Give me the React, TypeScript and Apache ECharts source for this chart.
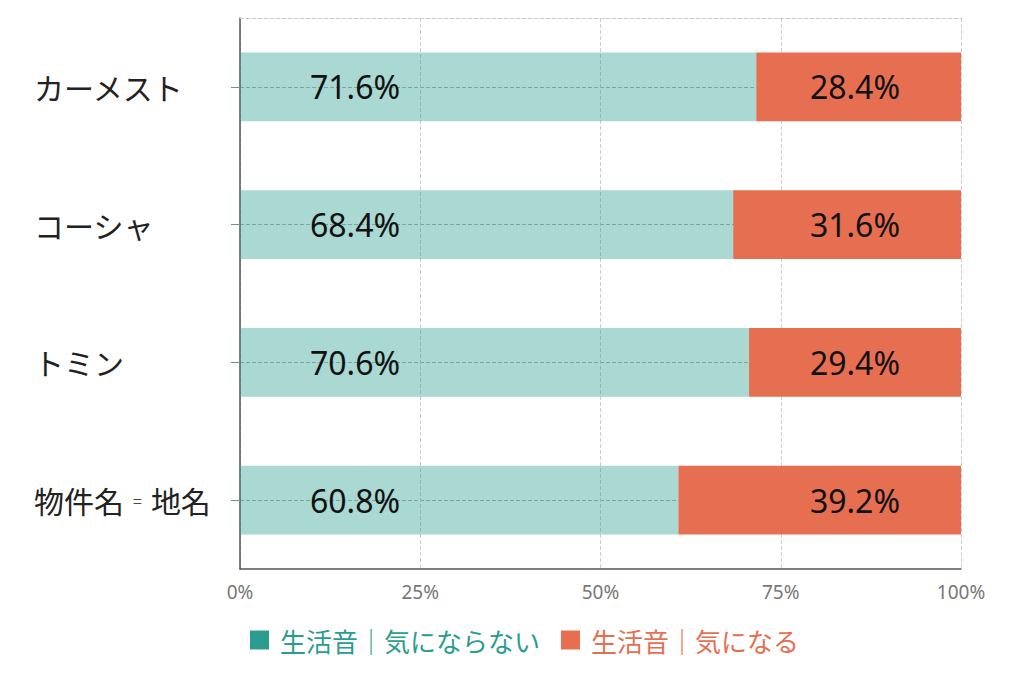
import React, { useEffect, useRef } from "react";
import * as echarts from "echarts";

const categories = ["カーメスト", "コーシャ", "トミン", "物件名 = 地名"];
const notBothered = [71.6, 68.4, 70.6, 60.8];
const bothered = [28.4, 31.6, 29.4, 39.2];
const seriesNames = ["生活音｜気にならない", "生活音｜気になる"];
const xTicks = [0, 25, 50, 75, 100];

const TEAL = "#2a9d8f";
const TEAL_BAR = "rgba(42,157,143,0.4)";
const ORANGE = "#e76f51";
const SANS = "'Noto Sans', sans-serif";
const JP = "'Noto Sans CJK JP', 'Noto Sans', sans-serif";

export default function App() {
  const ref = useRef<HTMLDivElement>(null);
  useEffect(() => {
    if (!ref.current) return;
    const chart = echarts.init(ref.current, undefined, { renderer: "svg" });
    chart.setOption({
      animation: false,
      grid: { left: 232, right: 55, top: 10, bottom: 106, containLabel: false },
      legend: {
        bottom: 17,
        left: 237,
        itemWidth: 19,
        itemHeight: 19,
        itemGap: 21,
        icon: "rect",
        textStyle: { fontSize: 26, fontFamily: JP, padding: [0, 0, 0, 6] },
        data: [
          { name: seriesNames[0], itemStyle: { color: TEAL }, textStyle: { color: TEAL } },
          { name: seriesNames[1], itemStyle: { color: ORANGE }, textStyle: { color: ORANGE } },
        ],
      },
      xAxis: [
        {
          type: "value",
          min: 0,
          max: 100,
          interval: 25,
          axisLine: { show: true, lineStyle: { color: "#555", width: 1.5 } },
          axisTick: { show: false },
          axisLabel: {
            formatter: (v: number) => (xTicks.includes(v) ? v + "%" : ""),
            color: "#777",
            fontSize: 19,
            fontFamily: SANS,
            margin: 13,
          },
          splitLine: { show: true, lineStyle: { color: "#cccccc", type: "dashed", width: 1 } },
        },
        {
          type: "value",
          position: "top",
          min: 0,
          max: 100,
          axisLine: { show: true, lineStyle: { color: "#cccccc", type: "dashed", width: 1 } },
          axisTick: { show: false },
          axisLabel: { show: false },
          splitLine: { show: false },
        },
      ],
      yAxis: {
        type: "category",
        inverse: true,
        data: categories,
        axisLine: { show: true, lineStyle: { color: "#555", width: 1.5 } },
        axisTick: { show: true, alignWithLabel: true, length: 9, lineStyle: { color: "#888" } },
        axisLabel: {
          align: "left",
          margin: 206,
          color: "#222",
          fontSize: 30,
          fontFamily: JP,
          formatter: (v: string) => v.replace(" = ", "{eq|=}"),
          rich: { eq: { fontSize: 16, color: "#444", fontFamily: JP, padding: [0, 9, 0, 9] } },
        },
        splitLine: {
          show: true,
          alignWithLabel: true,
          lineStyle: { color: "#aaaaaa", type: "dashed", width: 1 },
        },
      },
      series: [
        {
          name: seriesNames[0],
          type: "bar",
          stack: "total",
          barWidth: "50%",
          data: notBothered,
          itemStyle: { color: TEAL_BAR },
          label: {
            show: true,
            position: "insideLeft",
            distance: 70,
            formatter: "{c}%",
            color: "#111",
            fontSize: 32,
            fontFamily: SANS,
          },
        },
        {
          name: seriesNames[1],
          type: "bar",
          stack: "total",
          barWidth: "50%",
          data: bothered,
          itemStyle: { color: ORANGE },
          label: {
            show: true,
            position: "insideRight",
            distance: 61,
            formatter: "{c}%",
            color: "#111",
            fontSize: 32,
            fontFamily: SANS,
          },
        },
      ],
    });
    return () => chart.dispose();
  }, []);
  return <div ref={ref} style={{ width: 1008, height: 667 }} />;
}
